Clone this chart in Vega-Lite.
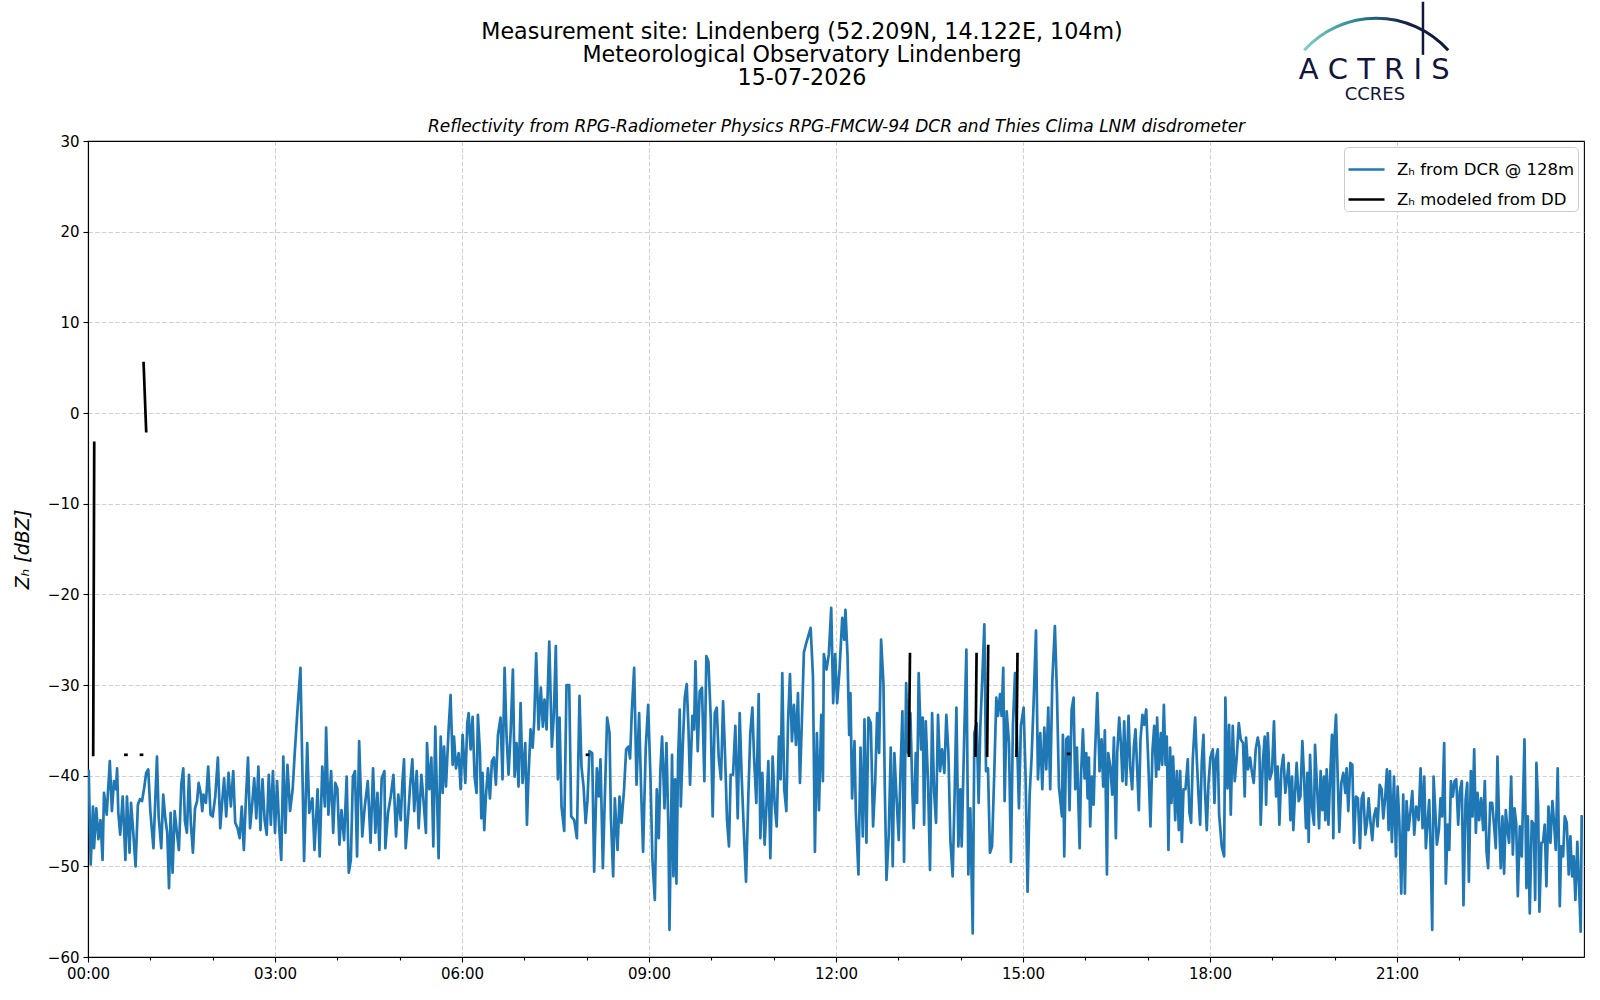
{
  "$schema": "https://vega.github.io/schema/vega-lite/v6.json",
  "width": 1496,
  "height": 816,
  "autosize": {"type": "none"},
  "padding": {"left": 88, "top": 141, "right": 16, "bottom": 43},
  "background": "white",
  "title": {
    "text": ["Measurement site: Lindenberg (52.209N, 14.122E, 104m)", "Meteorological Observatory Lindenberg", "15-07-2026"],
    "fontSize": 22.2, "fontWeight": "normal", "font": "DejaVu Sans", "color": "black",
    "anchor": "middle", "frame": "group", "dx": -34, "offset": -88.5, "lineHeight": 23
  },
  "config": {
    "font": "DejaVu Sans",
    "view": {"stroke": "black", "strokeWidth": 1.1},
    "axis": {
      "labelFont": "DejaVu Sans", "labelFontSize": 15, "labelColor": "black",
      "titleFont": "DejaVu Sans", "titleColor": "black", "titleFontWeight": "normal",
      "tickColor": "black", "domainColor": "black", "domainWidth": 1.1, "tickWidth": 1.1,
      "gridColor": "#d0d0d0", "gridDash": [4.5, 2.2], "gridWidth": 1, "tickSize": 5, "labelPadding": 4
    },
    "legend": {
      "labelFont": "DejaVu Sans", "labelFontSize": 16.5, "labelColor": "black"
    }
  },
  "resolve": {"axis": {"x": "independent", "y": "independent"}},
  "layer": [
    {
      "data": {"name": "dcr", "values": [
{"m":0.7,"z":-39.5},{"m":2.6,"z":-49.8},{"m":4.8,"z":-43.4},{"m":5.8,"z":-48},{"m":8,"z":-43.6},{"m":10,"z":-47},{"m":12,"z":-44.9},{"m":14,"z":-49.3},{"m":15.4,"z":-41.9},{"m":18,"z":-44.3},{"m":21,"z":-38.4},{"m":23,"z":-43.9},{"m":25,"z":-40.6},{"m":27,"z":-41.5},{"m":28,"z":-39.2},{"m":29.2,"z":-44.1},{"m":31,"z":-46.5},{"m":33.4,"z":-42.3},{"m":36,"z":-49.3},{"m":37.5,"z":-42.3},{"m":40,"z":-48.5},{"m":41.4,"z":-43},{"m":43.6,"z":-46.3},{"m":45.8,"z":-50},{"m":48,"z":-43.2},{"m":50,"z":-42.6},{"m":52,"z":-42.8},{"m":54,"z":-41.4},{"m":56,"z":-39.7},{"m":58,"z":-39.3},{"m":60,"z":-43.9},{"m":63,"z":-48},{"m":64.8,"z":-42.6},{"m":66.4,"z":-37.9},{"m":68,"z":-44.5},{"m":70.5,"z":-48},{"m":72.4,"z":-42.1},{"m":74.4,"z":-44.7},{"m":76.3,"z":-46.3},{"m":78,"z":-52.4},{"m":79.5,"z":-44.1},{"m":81.4,"z":-50.7},{"m":83.4,"z":-43.9},{"m":85.6,"z":-46.3},{"m":87.5,"z":-48.2},{"m":89.8,"z":-41},{"m":91.7,"z":-39.2},{"m":93.3,"z":-45},{"m":95.2,"z":-46.3},{"m":97.2,"z":-39.9},{"m":99,"z":-45.2},{"m":101,"z":-48.5},{"m":103,"z":-43.6},{"m":105,"z":-42.8},{"m":106.5,"z":-40.8},{"m":108.4,"z":-41.9},{"m":110,"z":-43.9},{"m":111.2,"z":-42.1},{"m":113.5,"z":-43},{"m":115.7,"z":-39},{"m":118,"z":-44.3},{"m":120,"z":-44.5},{"m":122.5,"z":-42.3},{"m":125,"z":-38},{"m":127.3,"z":-45.8},{"m":129.2,"z":-42.8},{"m":131,"z":-40.3},{"m":133,"z":-44.5},{"m":135.3,"z":-39.7},{"m":137.5,"z":-43.4},{"m":139.8,"z":-39.5},{"m":141.7,"z":-45.2},{"m":144,"z":-45.8},{"m":146,"z":-46.9},{"m":148,"z":-43.4},{"m":150,"z":-48.2},{"m":152,"z":-42.6},{"m":154,"z":-38},{"m":156,"z":-45.8},{"m":158,"z":-43.2},{"m":160,"z":-40.3},{"m":162,"z":-44.7},{"m":164,"z":-39},{"m":166,"z":-46},{"m":168,"z":-40.4},{"m":170,"z":-44.9},{"m":172,"z":-46.5},{"m":174,"z":-39.9},{"m":176,"z":-45.4},{"m":178,"z":-39.5},{"m":180,"z":-46.3},{"m":182,"z":-40.6},{"m":184,"z":-45.6},{"m":186,"z":-49.3},{"m":188,"z":-37.9},{"m":190,"z":-46.3},{"m":192,"z":-38.8},{"m":194.5,"z":-43.9},{"m":197,"z":-41.5},{"m":199,"z":-37.5},{"m":201.5,"z":-33},{"m":204.5,"z":-28.1},{"m":208,"z":-49.4},{"m":211,"z":-36.4},{"m":213,"z":-44.1},{"m":216,"z":-42.5},{"m":218,"z":-48.2},{"m":221,"z":-41.5},{"m":223,"z":-48.9},{"m":225.5,"z":-39},{"m":228,"z":-43.4},{"m":229.2,"z":-34.7},{"m":231.4,"z":-44.3},
{"m":234,"z":-39.5},{"m":236,"z":-46.3},{"m":238,"z":-40.8},{"m":240,"z":-41.4},{"m":242,"z":-47.6},{"m":244,"z":-43.8},{"m":246.5,"z":-47.1},{"m":249,"z":-40.1},{"m":251,"z":-50.7},{"m":253,"z":-49.3},{"m":255,"z":-40.1},{"m":257,"z":-39.5},{"m":259,"z":-48.9},{"m":261,"z":-36.2},{"m":264,"z":-46.7},{"m":266.4,"z":-43.4},{"m":269.3,"z":-40.6},{"m":272,"z":-47.4},{"m":274.4,"z":-39.2},{"m":276.6,"z":-46.3},{"m":278.6,"z":-41.9},{"m":280.5,"z":-48.2},{"m":282.7,"z":-40.3},{"m":285.3,"z":-39.5},{"m":286.2,"z":-48},{"m":288.8,"z":-44.1},{"m":291.4,"z":-42.3},{"m":294,"z":-39.9},{"m":296.5,"z":-46.7},{"m":298.7,"z":-42.1},{"m":301,"z":-44.9},{"m":302.6,"z":-40.8},{"m":304.2,"z":-38.2},{"m":305.8,"z":-48},{"m":308,"z":-44.7},{"m":310,"z":-41.2},{"m":312.2,"z":-38.2},{"m":314,"z":-43.9},{"m":316.4,"z":-39.5},{"m":318.3,"z":-45.8},{"m":320.9,"z":-39.9},{"m":323,"z":-42.8},{"m":325.3,"z":-46.3},{"m":326.3,"z":-36.4},{"m":328.5,"z":-41.5},{"m":330.5,"z":-38},{"m":332.4,"z":-47.8},{"m":334.3,"z":-34.6},{"m":335.6,"z":-40.8},{"m":337.5,"z":-49.1},{"m":339.5,"z":-35.7},{"m":341.4,"z":-41.9},{"m":342.7,"z":-36.8},{"m":344.6,"z":-41.2},{"m":347.1,"z":-34.9},{"m":349,"z":-31.1},{"m":351,"z":-38.8},{"m":352.3,"z":-35.7},{"m":354.2,"z":-39.2},{"m":356.8,"z":-37.5},{"m":358.7,"z":-41.5},{"m":360.6,"z":-35.5},{"m":363.2,"z":-40.8},{"m":365.1,"z":-34.2},{"m":366.4,"z":-33.1},{"m":368.3,"z":-37.1},{"m":370.2,"z":-33.5},{"m":372.1,"z":-40.1},{"m":374,"z":-41.9},{"m":375.3,"z":-33.3},{"m":377.3,"z":-37.5},{"m":378.6,"z":-44.7},{"m":379.8,"z":-39.7},{"m":381.4,"z":-46},{"m":383,"z":-42.3},{"m":385,"z":-39.2},{"m":386.9,"z":-42.5},{"m":388.8,"z":-38.4},{"m":390.7,"z":-38},{"m":392.6,"z":-41},{"m":394.6,"z":-35.5},{"m":397.1,"z":-33.6},{"m":399,"z":-40.4},{"m":401,"z":-28.1},{"m":402.9,"z":-35.7},{"m":404.8,"z":-39.9},{"m":406.8,"z":-35.3},{"m":409,"z":-28.3},{"m":410.6,"z":-40.1},{"m":412.5,"z":-36.4},{"m":414.4,"z":-41.2},{"m":416.4,"z":-32},{"m":418.3,"z":-40.8},{"m":420.9,"z":-36.4},{"m":422.5,"z":-45.4},{"m":424,"z":-40.1},{"m":426,"z":-34.9},{"m":428,"z":-36.9},{"m":429.5,"z":-34},{"m":431.4,"z":-26.5},{"m":433.7,"z":-34.9},{"m":435.9,"z":-30.3},{"m":437.8,"z":-34.6},{"m":439.4,"z":-31.6},{"m":441.4,"z":-34.9},{"m":444,"z":-25.2},{"m":446.5,"z":-36.8},{"m":448.4,"z":-33.3},{"m":450.3,"z":-25.7},{"m":452.3,"z":-40.4},{"m":453.9,"z":-33.6},{"m":455.8,"z":-43.4},{"m":458.4,"z":-46.1},{"m":460.6,"z":-30},{"m":463.2,"z":-30},{"m":465.1,"z":-44.5},
{"m":468,"z":-44.9},{"m":470.6,"z":-46.9},{"m":473.1,"z":-31.2},{"m":475,"z":-39},{"m":477,"z":-41.2},{"m":479,"z":-45.2},{"m":480.8,"z":-42.7},{"m":482.7,"z":-37.3},{"m":485.3,"z":-37.5},{"m":487.2,"z":-50.6},{"m":489.8,"z":-39.2},{"m":491.7,"z":-42.3},{"m":493.3,"z":-38.2},{"m":495.6,"z":-50.2},{"m":497.5,"z":-42.3},{"m":499.7,"z":-33.6},{"m":502,"z":-35.3},{"m":503.3,"z":-44.5},{"m":505.5,"z":-51.1},{"m":507.1,"z":-42.5},{"m":509.7,"z":-48.2},{"m":511.6,"z":-42.3},{"m":513.5,"z":-45.2},{"m":516,"z":-41.5},{"m":518,"z":-37.1},{"m":520.2,"z":-36.8},{"m":521.8,"z":-38.1},{"m":523.4,"z":-33.1},{"m":525.7,"z":-28.1},{"m":528,"z":-41},{"m":530.5,"z":-33.1},{"m":532.4,"z":-41.5},{"m":534.3,"z":-48.4},{"m":536.9,"z":-36.8},{"m":539.2,"z":-32.2},{"m":541.4,"z":-40.1},{"m":543.3,"z":-49.3},{"m":545.6,"z":-53.7},{"m":547.5,"z":-41.5},{"m":549.4,"z":-46.9},{"m":551,"z":-39.3},{"m":552.6,"z":-35.7},{"m":554.9,"z":-43.6},{"m":556.8,"z":-36.4},{"m":558.7,"z":-46},{"m":559.7,"z":-57},{"m":562.2,"z":-37.7},{"m":563.5,"z":-51.1},{"m":565.1,"z":-40.4},{"m":566.4,"z":-51.9},{"m":568,"z":-38.2},{"m":569.6,"z":-32.7},{"m":570.6,"z":-43.4},{"m":572.5,"z":-36.8},{"m":574.4,"z":-31.4},{"m":576.3,"z":-29.9},{"m":577.9,"z":-34.5},{"m":579.5,"z":-41},{"m":581.8,"z":-33.4},{"m":583.4,"z":-34.9},{"m":584.7,"z":-27.4},{"m":586.9,"z":-37.3},{"m":588.8,"z":-30.7},{"m":591,"z":-30.3},{"m":593.3,"z":-40.6},{"m":595.2,"z":-26.8},{"m":597.2,"z":-27.4},{"m":599.4,"z":-33.6},{"m":601.3,"z":-44.5},{"m":603.3,"z":-33.1},{"m":605.2,"z":-32.5},{"m":607.1,"z":-38},{"m":609.3,"z":-40.4},{"m":611.3,"z":-31.8},{"m":613.2,"z":-37.7},{"m":615.1,"z":-44.9},{"m":617,"z":-47.8},{"m":618.6,"z":-39.9},{"m":620.9,"z":-39.9},{"m":623.1,"z":-34.5},{"m":625.4,"z":-44.7},{"m":627.3,"z":-33.1},{"m":629.2,"z":-40.1},{"m":631.5,"z":-46.7},{"m":633.4,"z":-51.7},{"m":635.6,"z":-42.3},{"m":637.5,"z":-35.3},{"m":639.5,"z":-32.5},{"m":641.1,"z":-37.9},{"m":643.3,"z":-43},{"m":645.6,"z":-31},{"m":647.2,"z":-46.9},{"m":649.1,"z":-39.7},{"m":651.3,"z":-47.6},{"m":653.2,"z":-43},{"m":654.9,"z":-38.4},{"m":656.8,"z":-49.1},{"m":659,"z":-37.9},{"m":660.9,"z":-43},{"m":662.9,"z":-45.6},{"m":665.1,"z":-35.7},{"m":666.7,"z":-40.4},{"m":668.3,"z":-28.7},{"m":670.2,"z":-41.5},{"m":672.2,"z":-43.9},{"m":673.8,"z":-34.2},{"m":675.7,"z":-28.8},{"m":677.6,"z":-36.2},{"m":679.5,"z":-32.2},{"m":681.5,"z":-36.6},{"m":683.4,"z":-30.9},{"m":685.3,"z":-40.8},{"m":687.2,"z":-33.8},{"m":689.1,"z":-26.4},{"m":691.1,"z":-25.5},{"m":693.3,"z":-24.6},{"m":695.6,"z":-23.7},{"m":697.8,"z":-29},{"m":699.7,"z":-48.4},{"m":701.6,"z":-35.3},{"m":703.6,"z":-43.8},{"m":705.8,"z":-33.3},{"m":707.4,"z":-40.6},
{"m":708.3,"z":-26.6},{"m":710.9,"z":-28.3},{"m":713.1,"z":-26.6},{"m":715.4,"z":-21.5},{"m":717.3,"z":-32},{"m":719.2,"z":-26.6},{"m":721.1,"z":-32},{"m":723.4,"z":-28.3},{"m":726,"z":-22.6},{"m":727.9,"z":-25},{"m":729.1,"z":-21.7},{"m":731.1,"z":-26.8},{"m":732.7,"z":-35.5},{"m":733.9,"z":-30.9},{"m":735.5,"z":-42.5},{"m":737.8,"z":-36.2},{"m":739.1,"z":-44.1},{"m":741.6,"z":-50.9},{"m":743.6,"z":-36.9},{"m":745.8,"z":-46.7},{"m":747.4,"z":-33.8},{"m":749.3,"z":-47.4},{"m":751.2,"z":-33.6},{"m":753.5,"z":-34.2},{"m":755.7,"z":-45.6},{"m":757.7,"z":-40.8},{"m":759.6,"z":-33.1},{"m":761.5,"z":-37.5},{"m":763.4,"z":-25},{"m":765.7,"z":-29.9},{"m":767,"z":-41.5},{"m":768.6,"z":-51.5},{"m":770.8,"z":-46.5},{"m":772.7,"z":-36.9},{"m":774.6,"z":-50},{"m":776.2,"z":-37.5},{"m":778.2,"z":-42.3},{"m":780.4,"z":-47.1},{"m":782,"z":-39.9},{"m":783.9,"z":-32.9},{"m":785.5,"z":-49.5},{"m":787.5,"z":-29.8},{"m":789.4,"z":-37.5},{"m":791.6,"z":-33.1},{"m":793.6,"z":-42.1},{"m":794.8,"z":-45.8},{"m":796.8,"z":-37.5},{"m":798,"z":-43},{"m":799.6,"z":-28.7},{"m":801.9,"z":-37.1},{"m":803.5,"z":-33.6},{"m":804.8,"z":-45.4},{"m":806.4,"z":-34},{"m":808.6,"z":-40.8},{"m":810.5,"z":-50.4},{"m":812.5,"z":-33.1},{"m":814.4,"z":-41.7},{"m":816.3,"z":-45.2},{"m":818.2,"z":-33.3},{"m":820.2,"z":-39.5},{"m":822.1,"z":-37.1},{"m":824.3,"z":-39.7},{"m":826.2,"z":-33.3},{"m":828.2,"z":-37.5},{"m":830.1,"z":-47.1},{"m":832.3,"z":-51.1},{"m":834.3,"z":-41.5},{"m":835.9,"z":-32.5},{"m":837.8,"z":-47.8},{"m":839.7,"z":-41.5},{"m":841,"z":-47.8},{"m":842.9,"z":-38.2},{"m":845.5,"z":-26.1},{"m":847.4,"z":-50.9},{"m":849.3,"z":-43.6},{"m":851.6,"z":-57.4},{"m":853.2,"z":-35.3},{"m":855.4,"z":-34.2},{"m":857.3,"z":-43},{"m":858.9,"z":-34.7},{"m":860.9,"z":-29},{"m":862.8,"z":-23.3},{"m":864.4,"z":-39.5},{"m":866.3,"z":-39.2},{"m":868.2,"z":-48.5},{"m":870.2,"z":-47.8},{"m":872.4,"z":-39.5},{"m":874.3,"z":-31.4},{"m":875.9,"z":-33.4},{"m":877.9,"z":-31},{"m":879.4,"z":-33.4},{"m":881,"z":-28.1},{"m":882.3,"z":-42.8},{"m":884.3,"z":-32.9},{"m":886.5,"z":-36.4},{"m":888.4,"z":-49.5},{"m":890.3,"z":-34.4},{"m":892.3,"z":-28.7},{"m":894.2,"z":-35.7},{"m":896.1,"z":-43.6},{"m":898,"z":-34.5},{"m":900.6,"z":-32.5},{"m":902.5,"z":-40.1},{"m":904.4,"z":-52.8},{"m":906.4,"z":-42.1},{"m":908.3,"z":-37.9},{"m":910.2,"z":-32},{"m":912.5,"z":-24},{"m":914.4,"z":-40.4},{"m":916.6,"z":-35.3},{"m":918.6,"z":-41.5},{"m":920.5,"z":-34.7},{"m":922.4,"z":-39.3},{"m":924.3,"z":-32.5},{"m":926.2,"z":-41.5},{"m":928.2,"z":-29.6},{"m":930.7,"z":-23.5},{"m":932.7,"z":-31},{"m":934.6,"z":-41.2},{"m":937.5,"z":-44.5},{"m":938.4,"z":-35.5},{"m":939.7,"z":-48.9},{"m":941.6,"z":-36},{"m":943.5,"z":-35.7},{"m":944.8,"z":-43.8},{"m":946.8,"z":-32.7},
{"m":948.7,"z":-31.4},{"m":950.3,"z":-41.5},{"m":951.9,"z":-36.9},{"m":954.5,"z":-48},{"m":955.8,"z":-40.1},{"m":957.7,"z":-34.9},{"m":959.3,"z":-40.3},{"m":960.9,"z":-37.5},{"m":962.2,"z":-42.5},{"m":963.4,"z":-38},{"m":964.7,"z":-45.6},{"m":966.3,"z":-40.1},{"m":968,"z":-43.2},{"m":969.2,"z":-38},{"m":971.5,"z":-30.9},{"m":973.7,"z":-39.5},{"m":975.6,"z":-36},{"m":977.2,"z":-41.2},{"m":978.8,"z":-35},{"m":980.8,"z":-50.9},{"m":982,"z":-37.5},{"m":984,"z":-39},{"m":985.9,"z":-42.1},{"m":987.5,"z":-35.8},{"m":989.4,"z":-46.9},{"m":990.7,"z":-37.5},{"m":992.6,"z":-33.6},{"m":994.2,"z":-36.4},{"m":995.8,"z":-40.6},{"m":997.4,"z":-34},{"m":999.3,"z":-41},{"m":1001.6,"z":-33.4},{"m":1003.2,"z":-39},{"m":1005.1,"z":-41.5},{"m":1006.7,"z":-36.8},{"m":1008.3,"z":-34.9},{"m":1009.9,"z":-39.3},{"m":1011.5,"z":-43.8},{"m":1013.1,"z":-36},{"m":1015,"z":-33.3},{"m":1016.6,"z":-34.4},{"m":1018.6,"z":-32.7},{"m":1020.5,"z":-38.2},{"m":1022.7,"z":-45.6},{"m":1024.7,"z":-37.1},{"m":1026.3,"z":-34.5},{"m":1028.2,"z":-40.1},{"m":1029.1,"z":-33.6},{"m":1030.7,"z":-39.3},{"m":1032.7,"z":-35.3},{"m":1034,"z":-38.8},{"m":1035.6,"z":-32.2},{"m":1037.2,"z":-38.8},{"m":1038.4,"z":-35.7},{"m":1040,"z":-48.2},{"m":1041.6,"z":-36.9},{"m":1042.9,"z":-43},{"m":1044.5,"z":-37.9},{"m":1046.5,"z":-44.9},{"m":1048.1,"z":-39.5},{"m":1050,"z":-46},{"m":1051.3,"z":-39.5},{"m":1052.9,"z":-47.3},{"m":1054.5,"z":-41.5},{"m":1056.4,"z":-41.5},{"m":1058.6,"z":-38.2},{"m":1060.2,"z":-44.1},{"m":1061.8,"z":-45.2},{"m":1063.4,"z":-38.2},{"m":1065.7,"z":-33.6},{"m":1067.3,"z":-38.2},{"m":1068.9,"z":-42.1},{"m":1070.5,"z":-45.4},{"m":1072.1,"z":-38.4},{"m":1073.7,"z":-35.5},{"m":1075,"z":-41.2},{"m":1076.9,"z":-46},{"m":1078.5,"z":-41},{"m":1080.4,"z":-38},{"m":1082.7,"z":-37.1},{"m":1084.3,"z":-43},{"m":1085.6,"z":-38.2},{"m":1087.5,"z":-37.1},{"m":1088.8,"z":-44.3},{"m":1091.3,"z":-47.8},{"m":1093.6,"z":-48.9},{"m":1094.8,"z":-31.4},{"m":1096.8,"z":-41.4},{"m":1098.4,"z":-34.4},{"m":1100,"z":-44.3},{"m":1101.9,"z":-34.5},{"m":1103.8,"z":-40.6},{"m":1105.7,"z":-38},{"m":1107.7,"z":-34.2},{"m":1109.6,"z":-36},{"m":1111.8,"z":-36.4},{"m":1113.4,"z":-42.3},{"m":1114.7,"z":-35.8},{"m":1116.6,"z":-39.3},{"m":1118.6,"z":-38},{"m":1120.2,"z":-39.5},{"m":1122.1,"z":-40.8},{"m":1124,"z":-37.1},{"m":1126,"z":-35.8},{"m":1127.5,"z":-36.8},{"m":1128.8,"z":-45.4},{"m":1130.8,"z":-38.6},{"m":1132.7,"z":-35.7},{"m":1134,"z":-43.2},{"m":1135.6,"z":-35.3},{"m":1137.5,"z":-40.4},{"m":1139.7,"z":-39.5},{"m":1141.6,"z":-34},{"m":1143.6,"z":-42.3},{"m":1145.2,"z":-39},{"m":1146.8,"z":-45.4},{"m":1148.7,"z":-39.3},{"m":1150.6,"z":-37.7},{"m":1152.5,"z":-41.9},{"m":1154.1,"z":-40.4},{"m":1155.7,"z":-38.6},{"m":1157.4,"z":-44.9},{"m":1159,"z":-40.1},{"m":1160.2,"z":-46},{"m":1161.8,"z":-42.1},{"m":1163.4,"z":-38.6},{"m":1165.4,"z":-42.8},{"m":1167,"z":-42.3},{"m":1168.9,"z":-36.2},{"m":1170.5,"z":-40.1},{"m":1172.4,"z":-45.8},{"m":1173.7,"z":-39.7},{"m":1175,"z":-47.3},{"m":1176.3,"z":-37.7},{"m":1178.2,"z":-43.6},{"m":1180.1,"z":-45.4},{"m":1181.1,"z":-36.6},{"m":1183,"z":-41.2},{"m":1185,"z":-45.8},{"m":1186.5,"z":-39.5},{"m":1188.1,"z":-43.8},{"m":1189.7,"z":-40.1},
{"m":1191,"z":-44.9},{"m":1192.3,"z":-39.3},{"m":1194,"z":-45.4},{"m":1195.5,"z":-40.6},{"m":1197.4,"z":-35.5},{"m":1198.7,"z":-46.9},{"m":1200,"z":-35.7},{"m":1201.3,"z":-33.3},{"m":1202.9,"z":-40.1},{"m":1204.5,"z":-46.2},{"m":1206.4,"z":-40.8},{"m":1208.3,"z":-39.7},{"m":1210.3,"z":-41.9},{"m":1211.5,"z":-39.2},{"m":1213.1,"z":-43.9},{"m":1215.1,"z":-38.6},{"m":1217,"z":-38.8},{"m":1218.6,"z":-47.4},{"m":1220.5,"z":-42.3},{"m":1222.4,"z":-42.5},{"m":1224.4,"z":-48},{"m":1226,"z":-42.5},{"m":1227.6,"z":-41.9},{"m":1229.5,"z":-46.5},{"m":1231.1,"z":-45.2},{"m":1232.7,"z":-42.5},{"m":1234.3,"z":-44.9},{"m":1236.2,"z":-47.1},{"m":1237.8,"z":-44.5},{"m":1239.7,"z":-43.6},{"m":1241.3,"z":-45.6},{"m":1243.3,"z":-41},{"m":1245.2,"z":-41.5},{"m":1246.8,"z":-44.7},{"m":1248.7,"z":-42.3},{"m":1250.3,"z":-39.3},{"m":1251.9,"z":-46},{"m":1253.2,"z":-39.5},{"m":1255.1,"z":-47.3},{"m":1257.1,"z":-40.1},{"m":1259,"z":-48.9},{"m":1260.6,"z":-41.2},{"m":1262.2,"z":-44.9},{"m":1264.1,"z":-53},{"m":1266,"z":-42.1},{"m":1267.6,"z":-53},{"m":1269.2,"z":-42.8},{"m":1271.1,"z":-46},{"m":1273.1,"z":-43.8},{"m":1274.7,"z":-41.7},{"m":1276.6,"z":-46.5},{"m":1278.5,"z":-43.4},{"m":1280.8,"z":-44.9},{"m":1282.7,"z":-39.2},{"m":1284.6,"z":-45.8},{"m":1286.2,"z":-40.1},{"m":1287.8,"z":-48},{"m":1289.4,"z":-45.2},{"m":1291,"z":-42.7},{"m":1292.3,"z":-47.8},{"m":1293.9,"z":-57},{"m":1295.2,"z":-40.1},{"m":1296.8,"z":-43.8},{"m":1298.4,"z":-47.6},{"m":1300.3,"z":-46},{"m":1301.9,"z":-42.5},{"m":1303.5,"z":-44.5},{"m":1305.4,"z":-36.4},{"m":1307,"z":-51.9},{"m":1308.7,"z":-45.4},{"m":1310.3,"z":-48.2},{"m":1311.9,"z":-40.6},{"m":1313.8,"z":-42.3},{"m":1315.4,"z":-40.6},{"m":1317,"z":-40.4},{"m":1318.9,"z":-45.4},{"m":1320.5,"z":-41.7},{"m":1322.4,"z":-40.6},{"m":1324,"z":-54.3},{"m":1326,"z":-42.7},{"m":1327.6,"z":-40.8},{"m":1329.2,"z":-51.7},{"m":1331.1,"z":-39.5},{"m":1332.7,"z":-44.5},{"m":1334.3,"z":-37.1},{"m":1335.9,"z":-46.3},{"m":1337.5,"z":-41.9},{"m":1339.1,"z":-44.9},{"m":1341,"z":-42.5},{"m":1343,"z":-46},{"m":1344.5,"z":-40.6},{"m":1346.2,"z":-48.4},{"m":1347.7,"z":-50.2},{"m":1349.7,"z":-43},{"m":1351.6,"z":-43},{"m":1353.5,"z":-45.6},{"m":1355.1,"z":-48},{"m":1356.7,"z":-37.9},{"m":1358.3,"z":-45.2},{"m":1359.9,"z":-50.2},{"m":1361.5,"z":-44.5},{"m":1363.1,"z":-50.8},{"m":1364.7,"z":-43.8},{"m":1366.3,"z":-46},{"m":1367.9,"z":-47.4},{"m":1369.9,"z":-40.1},{"m":1371.5,"z":-48.7},{"m":1373.1,"z":-43.6},{"m":1374.7,"z":-45.2},{"m":1376.3,"z":-53.3},{"m":1378.2,"z":-45.6},{"m":1380.1,"z":-48.9},{"m":1382.7,"z":-36},{"m":1384.6,"z":-52.4},{"m":1385.9,"z":-44.5},{"m":1387.8,"z":-55.2},{"m":1389.7,"z":-45},{"m":1391.7,"z":-45.4},{"m":1393,"z":-53.7},{"m":1394.2,"z":-38.6},{"m":1395.8,"z":-43.2},{"m":1397.1,"z":-55},{"m":1399,"z":-47.4},{"m":1400.6,"z":-47.3},{"m":1402.2,"z":-45.4},{"m":1403.8,"z":-52.2},{"m":1405.8,"z":-43.4},{"m":1407.7,"z":-47.4},{"m":1409.6,"z":-42.8},{"m":1411.2,"z":-45.2},{"m":1412.8,"z":-48.2},{"m":1414.7,"z":-39.2},{"m":1416.7,"z":-54.4},{"m":1418,"z":-47.8},{"m":1419.9,"z":-48.9},{"m":1421.5,"z":-44.5},{"m":1423.4,"z":-45.2},{"m":1425.3,"z":-50.9},{"m":1426.9,"z":-46.7},{"m":1428.5,"z":-51.1},{"m":1430.1,"z":-48.9},{"m":1431.7,"z":-53.7},{"m":1433.6,"z":-47.3},{"m":1435.6,"z":-53.3},{"m":1436.8,"z":-57.2},{"m":1437.8,"z":-44.5}
      ]},
      "mark": {"type": "line", "strokeWidth": 2.7, "strokeJoin": "round", "strokeCap": "square", "clip": true},
      "encoding": {
        "x": {"field": "m", "type": "quantitative", "scale": {"domain": [0, 1440], "nice": false, "zero": false},
          "axis": {"orient": "bottom", "values": [0, 180, 360, 540, 720, 900, 1080, 1260], "title": null, "grid": true,
            "labelExpr": "(datum.value < 600 ? '0' : '') + floor(datum.value / 60) + ':00'", "labelFlush": false}},
        "y": {"field": "z", "type": "quantitative", "scale": {"domain": [-60, 30], "nice": false, "zero": false},
          "axis": {"orient": "left", "values": [-60, -50, -40, -30, -20, -10, 0, 10, 20, 30], "grid": true, "format": "d",
            "title": "Zₕ [dBZ]", "titleFontSize": 19, "titleFontStyle": "italic", "titlePadding": 15, "labelFlush": false}},
        "color": {"datum": "Zₕ from DCR @ 128m", "type": "nominal",
          "scale": {"domain": ["Zₕ from DCR @ 128m", "Zₕ modeled from DD"], "range": ["#1f77b4", "#000000"]},
          "legend": {"orient": "top-right", "title": null, "offset": 6, "strokeColor": "#cccccc", "fillColor": "white",
            "cornerRadius": 4, "padding": 3, "symbolType": "stroke", "symbolSize": 1296, "symbolStrokeWidth": 2.7,
            "labelFontSize": 16.5, "rowPadding": 2, "labelOffset": 11, "labelLimit": 0}}
      }
    },
    {
      "data": {"name": "dd", "values": [
        {"seg": 1, "m": 5, "z": -37.7}, {"seg": 1, "m": 6, "z": -3.3},
        {"seg": 2, "m": 36, "z": -37.7}, {"seg": 2, "m": 37, "z": -37.7},
        {"seg": 3, "m": 51, "z": -37.7}, {"seg": 3, "m": 52, "z": -37.7},
        {"seg": 4, "m": 53.5, "z": 5.5}, {"seg": 4, "m": 56, "z": -2},
        {"seg": 5, "m": 480.3, "z": -37.7}, {"seg": 5, "m": 481.3, "z": -37.7},
        {"seg": 6, "m": 790.2, "z": -37.8}, {"seg": 6, "m": 791.2, "z": -26.6},
        {"seg": 7, "m": 854.3, "z": -37.8}, {"seg": 7, "m": 855.3, "z": -26.6},
        {"seg": 8, "m": 865.5, "z": -37.8}, {"seg": 8, "m": 866.5, "z": -25.7},
        {"seg": 9, "m": 893.7, "z": -37.8}, {"seg": 9, "m": 894.7, "z": -26.6},
        {"seg": 10, "m": 943.4, "z": -37.6}, {"seg": 10, "m": 944.4, "z": -37.6}
      ]},
      "layer": [
        {
          "mark": {"type": "line", "strokeWidth": 2.7, "strokeCap": "square", "strokeJoin": "round"},
          "encoding": {
            "x": {"field": "m", "type": "quantitative", "scale": {"domain": [0, 1440], "nice": false, "zero": false},
              "axis": {"orient": "bottom", "values": [60, 120, 240, 300, 420, 480, 600, 660, 780, 840, 960, 1020, 1140, 1200, 1320, 1380],
                "labels": false, "domain": false, "grid": false, "tickSize": 3, "title": null}},
            "y": {"field": "z", "type": "quantitative", "scale": {"domain": [-60, 30], "nice": false, "zero": false},
              "axis": {"orient": "left", "values": [-58, -56, -54, -52, -48, -46, -44, -42, -38, -36, -34, -32, -28, -26, -24, -22, -18, -16, -14, -12, -8, -6, -4, -2, 2, 4, 6, 8, 12, 14, 16, 18, 22, 24, 26, 28],
                "labels": false, "domain": false, "grid": false, "tickSize": 3, "title": null}},
            "detail": {"field": "seg", "type": "nominal"},
            "color": {"datum": "Zₕ modeled from DD", "type": "nominal"}
          }
        },
        {
          "mark": {"type": "point", "opacity": 0},
          "encoding": {
            "x": {"field": "m", "type": "quantitative", "scale": {"domain": [0, 1440], "nice": false, "zero": false},
              "axis": {"orient": "top", "labels": false, "ticks": false, "domain": true, "domainColor": "black", "domainWidth": 1.1, "grid": false, "zindex": 1,
                "title": "Reflectivity from RPG-Radiometer Physics RPG-FMCW-94 DCR and Thies Clima LNM disdrometer",
                "titleFontStyle": "italic", "titleFontSize": 17, "titlePadding": 6}},
            "y": {"field": "z", "type": "quantitative", "scale": {"domain": [-60, 30], "nice": false, "zero": false}, "axis": null}
          }
        }
      ]
    },
    {
      "data": {"values": [{"logo": "ACTRIS"}]},
      "mark": {"type": "text", "text": "A C T R I S", "font": "DejaVu Sans", "fontSize": 29, "color": "#12163a", "align": "center", "baseline": "middle"},
      "encoding": {
        "x": {"datum": 1238, "type": "quantitative", "scale": {"domain": [0, 1440], "nice": false, "zero": false}, "axis": null},
        "y": {"datum": 37.85, "type": "quantitative", "scale": {"domain": [-60, 30], "nice": false, "zero": false}, "axis": null}
      }
    },
    {
      "data": {"values": [{"logo": "CCRES"}]},
      "mark": {"type": "text", "text": "CCRES", "font": "DejaVu Sans", "fontSize": 18, "color": "#12163a", "align": "center", "baseline": "middle"},
      "encoding": {
        "x": {"datum": 1238.7, "type": "quantitative", "scale": {"domain": [0, 1440], "nice": false, "zero": false}, "axis": null},
        "y": {"datum": 35.1, "type": "quantitative", "scale": {"domain": [-60, 30], "nice": false, "zero": false}, "axis": null}
      }
    },
    {
      "data": {"values": [{"logo": "arc"}]},
      "mark": {"type": "point", "shape": "M -0.742 -0.670 A 1 1 0 0 1 0.742 -0.670", "size": 37636, "filled": false, "opacity": 1, "strokeWidth": 3,
        "stroke": {"gradient": "linear", "x1": 0, "y1": 0, "x2": 1, "y2": 0,
          "stops": [{"offset": 0, "color": "#7fd0ca"}, {"offset": 0.35, "color": "#2a8a95"}, {"offset": 0.7, "color": "#16204a"}, {"offset": 1, "color": "#12163a"}]}},
      "encoding": {
        "x": {"datum": 1240, "type": "quantitative", "scale": {"domain": [0, 1440], "nice": false, "zero": false}, "axis": null},
        "y": {"datum": 32.85, "type": "quantitative", "scale": {"domain": [-60, 30], "nice": false, "zero": false}, "axis": null}
      }
    },
    {
      "data": {"values": [{"logo": "mast"}]},
      "mark": {"type": "rule", "color": "#12163a", "strokeWidth": 2.5},
      "encoding": {
        "x": {"datum": 1285, "type": "quantitative", "scale": {"domain": [0, 1440], "nice": false, "zero": false}, "axis": null},
        "y": {"datum": 45.36, "type": "quantitative", "scale": {"domain": [-60, 30], "nice": false, "zero": false}, "axis": null},
        "y2": {"datum": 39.5}
      }
    }
  ]
}
